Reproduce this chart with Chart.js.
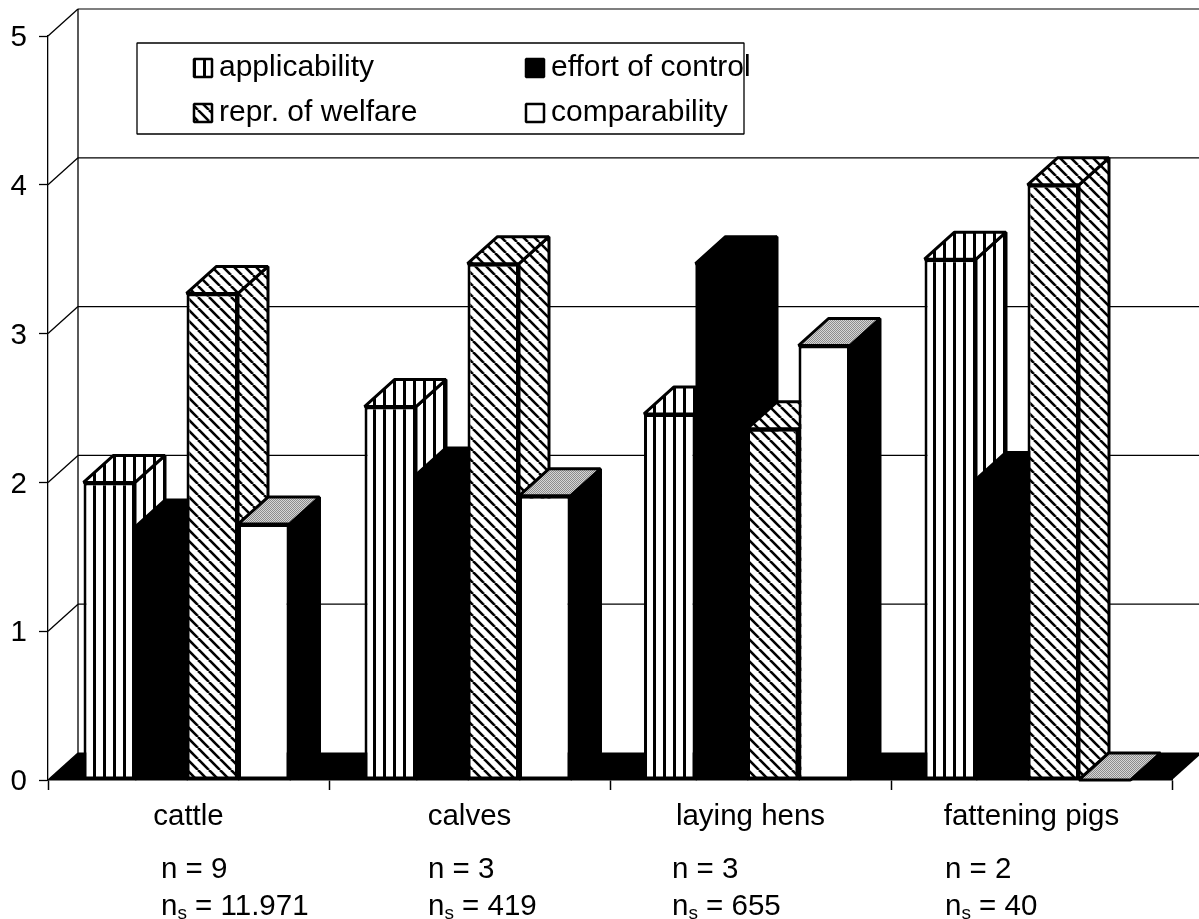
<!DOCTYPE html>
<html>
<head>
<meta charset="utf-8">
<title>Welfare indicators</title>
<script src="https://cdn.jsdelivr.net/npm/chart.js@4"></script>
<style>
  html, body { margin: 0; padding: 0; background: #fff; }
  canvas { display: block; }
</style>
</head>
<body>
<canvas id="chart" width="1199" height="919"></canvas>
<script>
// Data
const categories = ['cattle', 'calves', 'laying hens', 'fattening pigs'];
const seriesNames = ['applicability', 'effort of control', 'repr. of welfare', 'comparability'];
const applicability = [2.0, 2.51, 2.46, 3.5];
const effortOfControl = [1.7, 2.05, 3.47, 2.02];
const reprOfWelfare = [3.27, 3.47, 2.36, 4.0];
const comparability = [1.72, 1.91, 2.92, 0];
const yTicks = [0, 1, 2, 3, 4, 5];
const nCounts = ['9', '3', '3', '2'];
const nsCounts = ['11.971', '419', '655', '40'];

// Layout of the hand placed notes and the fake 3D depth
const DEPTH_X = 30;
const DEPTH_Y = 27;
const FONT = '"Liberation Sans", Arial, sans-serif';
const FONT_SIZE = 29.5;
const LEGEND_FONT_SIZE = 30;
const noteX = [161, 428, 672, 945];
const groupNudge = [2, 2, 3.5, 4]; // the groups sit a bit left of the category centres

// Hatch fills
function makeTile(w, h, paint) {
  const c = document.createElement('canvas');
  c.width = w;
  c.height = h;
  const g = c.getContext('2d');
  g.fillStyle = '#fff';
  g.fillRect(0, 0, w, h);
  paint(g);
  return g.createPattern(c, 'repeat');
}

const verticalHatch = makeTile(10, 10, (g) => {
  g.fillStyle = '#000';
  g.fillRect(3, 0, 3, 10);
});

const diagonalHatch = makeTile(11, 11, (g) => {
  g.strokeStyle = '#000';
  g.lineWidth = 2.6;
  for (let i = -11; i <= 11; i += 11) {
    g.beginPath();
    g.moveTo(i, 0);
    g.lineTo(i + 11, 11);
    g.stroke();
  }
});

const grayDither = makeTile(2, 2, (g) => {
  g.fillStyle = '#8c8c8c';
  g.fillRect(0, 0, 1, 1);
  g.fillRect(1, 1, 1, 1);
  g.fillStyle = '#d6d6d6';
  g.fillRect(1, 0, 1, 1);
  g.fillRect(0, 1, 1, 1);
});

const frontFills = [verticalHatch, '#000', diagonalHatch, '#fff'];
const sideFills = [verticalHatch, '#000', diagonalHatch, '#000'];
const topFills = [verticalHatch, '#000', diagonalHatch, grayDither];
const frontBorders = [3, 0, 3, 3]; // solid black bars need no outline

function polygon(ctx, pts, fill, lineWidth) {
  ctx.beginPath();
  pts.forEach((p, i) => (i ? ctx.lineTo(p[0], p[1]) : ctx.moveTo(p[0], p[1])));
  ctx.closePath();
  ctx.fillStyle = fill;
  ctx.fill();
  if (lineWidth) {
    ctx.lineWidth = lineWidth;
    ctx.strokeStyle = '#000';
    ctx.lineJoin = 'bevel';
    ctx.stroke();
  }
}

function line(ctx, x1, y1, x2, y2, width) {
  ctx.beginPath();
  ctx.moveTo(x1, y1);
  ctx.lineTo(x2, y2);
  ctx.lineWidth = width;
  ctx.strokeStyle = '#000';
  ctx.stroke();
}

// Back wall, side wall and black floor
function drawWalls(chart) {
  const ctx = chart.ctx;
  const { left, right } = chart.chartArea;
  const y = chart.scales.y;
  const base = y.getPixelForValue(0);

  yTicks.forEach((t) => {
    const py = y.getPixelForValue(t);
    line(ctx, left, py, left + DEPTH_X, py - DEPTH_Y, 1.3);
    line(ctx, left + DEPTH_X, py - DEPTH_Y, chart.width, py - DEPTH_Y, 1.2);
  });
  line(ctx, left + DEPTH_X, y.getPixelForValue(5) - DEPTH_Y, left + DEPTH_X, base - DEPTH_Y, 1.3);

  polygon(ctx, [
    [left, base],
    [left + DEPTH_X, base - DEPTH_Y],
    [right + DEPTH_X, base - DEPTH_Y],
    [right, base],
  ], '#000', 0);
}

// Side and top faces of every bar, left to right, the library draws the fronts over them
function drawBarDepth(chart) {
  const ctx = chart.ctx;
  chart.data.datasets.forEach((ds, i) => {
    chart.getDatasetMeta(i).data.forEach((bar) => {
      const p = bar.getProps(['x', 'y', 'base', 'width'], true);
      const x0 = p.x - p.width / 2;
      const x1 = p.x + p.width / 2;
      polygon(ctx, [
        [x1, p.y],
        [x1 + DEPTH_X, p.y - DEPTH_Y],
        [x1 + DEPTH_X, p.base - DEPTH_Y],
        [x1, p.base],
      ], sideFills[i], 3);
      polygon(ctx, [
        [x0, p.y],
        [x0 + DEPTH_X, p.y - DEPTH_Y],
        [x1 + DEPTH_X, p.y - DEPTH_Y],
        [x1, p.y],
      ], topFills[i], 3);
    });
  });
}

// Legend box, two columns
function drawLegend(chart) {
  const ctx = chart.ctx;
  const slots = [[193, 68], [525, 68], [193, 113], [525, 113]];
  ctx.save();
  ctx.fillStyle = '#fff';
  ctx.fillRect(137, 43, 607, 91);
  ctx.lineWidth = 1.3;
  ctx.strokeStyle = '#000';
  ctx.strokeRect(137, 43, 607, 91);
  ctx.font = LEGEND_FONT_SIZE + 'px ' + FONT;
  ctx.textBaseline = 'middle';
  seriesNames.forEach((name, s) => {
    const [x, y] = slots[s];
    ctx.fillStyle = frontFills[s];
    ctx.fillRect(x + 1, y - 9, 18, 18);
    ctx.lineWidth = 2.5;
    ctx.strokeStyle = '#000';
    ctx.strokeRect(x + 1, y - 9, 18, 18);
    ctx.fillStyle = '#000';
    ctx.fillText(name, x + 26, y);
  });
  ctx.restore();
}

// n and n_s notes under the categories
function drawNotes(chart) {
  const ctx = chart.ctx;
  ctx.save();
  ctx.fillStyle = '#000';
  ctx.textBaseline = 'alphabetic';
  categories.forEach((c, i) => {
    const x = noteX[i];
    ctx.font = FONT_SIZE + 'px ' + FONT;
    ctx.fillText('n = ' + nCounts[i], x, 878);
    ctx.fillText('n', x, 915);
    const nw = ctx.measureText('n').width;
    ctx.font = '19px ' + FONT;
    ctx.fillText('s', x + nw, 919);
    const sw = ctx.measureText('s').width;
    ctx.font = FONT_SIZE + 'px ' + FONT;
    ctx.fillText(' = ' + nsCounts[i], x + nw + sw, 915);
  });
  ctx.restore();
}

const depthPlugin = {
  id: 'depth',
  afterDatasetsUpdate(chart) {
    chart.data.datasets.forEach((ds, i) => {
      chart.getDatasetMeta(i).data.forEach((bar, j) => {
        bar.x -= groupNudge[j];
      });
    });
  },
  beforeDatasetsDraw(chart) {
    drawWalls(chart);
    drawBarDepth(chart);
  },
  afterDraw(chart) {
    drawLegend(chart);
    drawNotes(chart);
  },
};

const seriesValues = [applicability, effortOfControl, reprOfWelfare, comparability];

new Chart(document.getElementById('chart').getContext('2d'), {
  type: 'bar',
  data: {
    labels: categories,
    datasets: seriesNames.map((name, i) => ({
      label: name,
      data: seriesValues[i],
      backgroundColor: frontFills[i],
      borderColor: '#000',
      borderWidth: frontBorders[i],
      borderSkipped: false,
      categoryPercentage: 0.733,
      barPercentage: 1,
    })),
  },
  options: {
    responsive: false,
    animation: false,
    layout: { padding: { top: 36, right: 27, left: 0, bottom: 0 } },
    plugins: {
      legend: { display: false },
      tooltip: { enabled: false },
    },
    scales: {
      x: {
        afterFit(scale) { scale.height = 139; },
        grid: { drawOnChartArea: false, color: '#000', tickLength: 10, tickWidth: 1.5 },
        border: { color: '#000', width: 1.5 },
        ticks: { color: '#000', padding: 9, maxRotation: 0, font: { family: FONT, size: FONT_SIZE } },
      },
      y: {
        min: 0,
        max: 5,
        afterFit(scale) { scale.width = 48; },
        afterBuildTicks(scale) { scale.ticks = yTicks.map((v) => ({ value: v })); },
        grid: { drawOnChartArea: false, color: '#000', tickLength: 9, tickWidth: 1.3 },
        border: { color: '#000', width: 1.3 },
        ticks: { color: '#000', padding: 12, labelOffset: 2, font: { family: FONT, size: FONT_SIZE } },
      },
    },
  },
  plugins: [depthPlugin],
});
</script>
</body>
</html>
